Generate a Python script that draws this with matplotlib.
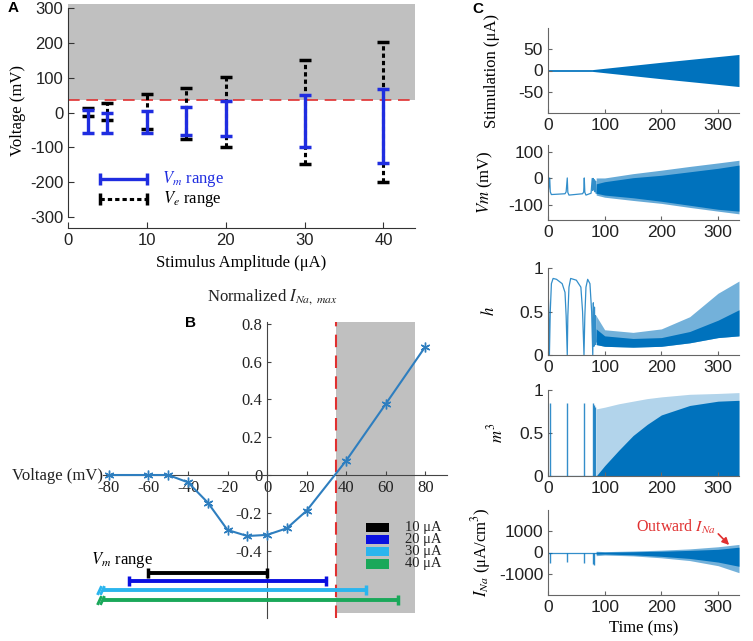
import numpy as np
import matplotlib
matplotlib.use('Agg')
import matplotlib.pyplot as plt

plt.rcParams['font.family'] = 'Liberation Sans'
plt.rcParams['mathtext.fontset'] = 'stix'
plt.rcParams['axes.unicode_minus'] = False

SERIF = 'Liberation Serif'
BLUE_A = '#1f2de0'
MBLUE = '#0072BD'
GRAY = '#c0c0c0'
RED = '#e03030'
AXC = '#333333'

# ---------------- panel A data
stim_amp = [2.5, 5, 10, 15, 20, 30, 40]
vm_lo = [-60, -60, -60, -63, -68, -100, -145]
vm_hi = [8, 0, 5, 17, 33, 51, 67]
ve_lo = [-10, -22, -47, -75, -100, -148, -200]
ve_hi = [14, 27, 53, 70, 102, 152, 202]
threshold = 37

# ---------------- panel B data
volt_B = [-80, -60, -50, -40, -30, -20, -10, 0, 10, 20, 40, 60, 80]
ina_B = [0, 0, 0, -0.039, -0.146, -0.291, -0.323, -0.317, -0.282, -0.189, 0.076, 0.376, 0.679]
range_labels = ['10 μA', '20 μA', '30 μA', '40 μA']
range_colors = ['black', '#0a10e0', '#2bb5ee', '#1aa85a']
range_lo = [-60, -70, -100, -145]
range_hi = [0, 30, 50, 66]
eq_pot = 35
shade_hi = 75

# ---------------- panel C data
stim_t = [0, 78, 200, 337]
stim_env = [2, 2, 19, 37]

vm_pre_t = [0, 1, 3, 4, 6, 30, 32, 34, 35, 37, 61, 63, 64, 65, 67, 76, 78, 79, 80, 81, 82, 83, 84, 85]
vm_pre_v = [-55, -40, 2, -50, -60, -57, -50, 2, -52, -62, -57, -50, 2, -52, -62, -55, 0, -45, 0, -40, -5, -50, -10, -55]
band_t = [85, 100, 150, 200, 250, 300, 337]
vm_top = [2, 2, 18, 31, 45, 58, 68]
vm_core_hi = [-20, -12, 3, 12, 25, 38, 50]
vm_core_lo = [-55, -62, -72, -85, -100, -115, -122]
vm_bot = [-62, -70, -82, -93, -108, -122, -132]

h_pre_t = [0, 1, 2.5, 4, 6, 9, 15, 25, 30, 32, 34, 35, 37, 40, 50, 58, 61, 63.5, 65, 67, 70, 74, 77, 79, 80,
           81, 82, 83, 84, 85]
h_pre_v = [0.75, 0.6, 0.0, 0.5, 0.82, 0.88, 0.87, 0.82, 0.72, 0.45, 0.0, 0.45, 0.78, 0.88, 0.86, 0.78, 0.5,
           0.0, 0.45, 0.78, 0.87, 0.82, 0.5, 0.0, 0.6, 0.1, 0.55, 0.12, 0.45, 0.15]
h_top = [0.45, 0.29, 0.26, 0.3, 0.44, 0.71, 0.85]
h_core = [0.3, 0.22, 0.19, 0.2, 0.27, 0.4, 0.52]
h_bot = [0.12, 0.1, 0.09, 0.1, 0.14, 0.2, 0.22]

m3_spike_t = [3, 34, 63.5, 79, 81, 83]
m3_spike_v = [0.85, 0.85, 0.85, 0.85, 0.82, 0.8]
m3_band_t = [85, 100, 125, 150, 175, 200, 250, 300, 337]
m3_top = [0.78, 0.8, 0.84, 0.87, 0.9, 0.92, 0.95, 0.96, 0.97]
m3_core = [0.0, 0.12, 0.3, 0.47, 0.6, 0.71, 0.82, 0.87, 0.88]

ina_spike_t = [3, 34, 63.5, 79, 81]
ina_spike_v = [-500, -450, -500, -550, -600]
ina_top = [60, 40, 70, 110, 170, 270, 380]
ina_core_hi = [20, 15, 35, 60, 100, 150, 250]
ina_core_lo = [-80, -70, -110, -180, -280, -450, -650]
ina_bot = [-150, -120, -160, -250, -380, -620, -950]

W, H = 753, 641
fig = plt.figure(figsize=(W / 100, H / 100), dpi=100)


def box(l, r, t, b):
    return [l / W, 1 - b / H, (r - l) / W, (b - t) / H]


# ================= A
axA = fig.add_axes(box(68, 415, 4, 217))
axA.axhspan(threshold, 330, color=GRAY, lw=0, zorder=0)
axA.axhline(threshold, color=RED, ls=(0, (7, 4)), lw=1.2, zorder=1)

ve_mid = (np.array(ve_lo) + np.array(ve_hi)) / 2
ve_half = (np.array(ve_hi) - np.array(ve_lo)) / 2
vm_mid = (np.array(vm_lo) + np.array(vm_hi)) / 2
vm_half = (np.array(vm_hi) - np.array(vm_lo)) / 2

eb = axA.errorbar(stim_amp, ve_mid, yerr=ve_half, fmt='none', ecolor='black',
                  elinewidth=2.2, capsize=4.5, capthick=2.5, zorder=2)
eb[2][0].set_linestyle((0, (1.4, 1.0)))
axA.errorbar(stim_amp, vm_mid, yerr=vm_half, fmt='none', ecolor=BLUE_A,
             elinewidth=2.4, capsize=4.5, capthick=2.5, zorder=3)

# legend drawn by hand
axA.errorbar([7], [-190], xerr=[3], fmt='none', ecolor=BLUE_A, elinewidth=2.4, capsize=4, capthick=2.5)
eb2 = axA.errorbar([7], [-248], xerr=[3], fmt='none', ecolor='black', elinewidth=2.2, capsize=4, capthick=2.5)
eb2[2][0].set_linestyle((0, (1.4, 1.0)))
axA.text(11.9, -190, r'$V_m$ range', color=BLUE_A, family=SERIF, fontsize=12, va='center')
axA.text(12.1, -248, r'$V_e$ range', color='black', family=SERIF, fontsize=12, va='center')

axA.set_xlim(0, 44)
axA.set_ylim(-300, 312)
axA.set_xticks([0, 10, 20, 30, 40])
axA.set_yticks(range(-300, 301, 100))
for s in ['top', 'right']:
    axA.spines[s].set_visible(False)
axA.spines['left'].set_bounds(-300, 300)
axA.spines['bottom'].set_position(('outward', 8))
for s in ['left', 'bottom']:
    axA.spines[s].set_color(AXC)
axA.tick_params(direction='in', length=4, labelsize=12, colors=AXC, labelcolor='#222')
axA.set_ylabel('Voltage (mV)', family=SERIF, fontsize=12, labelpad=3)
axA.set_xlabel('Stimulus Amplitude (μA)', family=SERIF, fontsize=12, labelpad=5)

# ================= B
axB = fig.add_axes(box(103, 447, 322, 618))
axB.fill_between([eq_pot, shade_hi], -0.73, 0.81, color=GRAY, lw=0, zorder=0)
axB.axvline(eq_pot, color=RED, ls=(0, (6, 4)), lw=1.5, zorder=1)
axB.plot(volt_B, ina_B, color='#2e7ebf', lw=1.5, marker=(6, 2, 0), ms=7, mew=1, zorder=3)

bar_y = [-0.517, -0.562, -0.608, -0.661]
for lo, hi, c, y in zip(range_lo, range_hi, range_colors, bar_y):
    axB.plot([lo, hi], [y, y], color=c, lw=2.8, solid_capstyle='butt', zorder=4)
    axB.plot([hi], [y], color=c, marker='|', ms=7, mew=2.5, zorder=4)
    if lo >= -83:
        axB.plot([lo], [y], color=c, marker='|', ms=7, mew=2.5, zorder=4)
    else:
        # break marks: the range runs off the left edge
        axB.plot([-85.2, -83.6], [y, y], ls='none', color=c, marker=(2, 0, -25), ms=7, mew=2,
                 clip_on=False, zorder=4)

leg_y = [-0.277, -0.340, -0.406, -0.471]
axB.barh(leg_y, 11.6, left=50, height=0.05, color=range_colors, zorder=4)
for y, lab in zip(leg_y, range_labels):
    axB.text(70, y, lab, family=SERIF, fontsize=10.5, va='center', color='#222')
axB.text(-89, -0.45, r'$V_m$ range', family=SERIF, fontsize=12, va='center', clip_on=False)

axB.set_xlim(-83, 91)
axB.set_ylim(-0.757, 0.81)
axB.set_xticks(range(-80, 81, 20))
axB.set_xticklabels([str(v) for v in range(-80, 81, 20)])
axB.set_yticks([-0.4, -0.2, 0, 0.2, 0.4, 0.6, 0.8])
axB.set_yticklabels(['-0.4', '-0.2', '0', '0.2', '0.4', '0.6', '0.8'])
for s in ['top', 'right']:
    axB.spines[s].set_visible(False)
axB.spines['left'].set_position(('data', 0))
axB.spines['bottom'].set_position(('data', 0))
for s in ['left', 'bottom']:
    axB.spines[s].set_color('#444')
axB.tick_params(direction='in', length=3, labelsize=12, colors='#444', labelcolor='#222')
for lab in axB.get_xticklabels() + axB.get_yticklabels():
    lab.set_family(SERIF)
fig.text(272 / W, 1 - 297 / H, r'Normalized $I_{Na,\ max}$', family=SERIF, fontsize=12,
         ha='center', va='center', color='#222')
fig.text(58 / W, 1 - 476 / H, 'Voltage (mV)', family=SERIF, fontsize=12, ha='center', va='center',
         color='#222')


# ================= C
def style_c(ax, ylim, yticks, ylabel, lx):
    ax.set_xlim(0, 337)
    ax.set_ylim(*ylim)
    ax.set_xticks([0, 100, 200, 300])
    ax.set_yticks(yticks)
    for s in ['top', 'right']:
        ax.spines[s].set_visible(False)
    for s in ['left', 'bottom']:
        ax.spines[s].set_color('#666')
        ax.spines[s].set_linewidth(0.8)
    ax.tick_params(direction='in', length=3, labelsize=12.5, colors='#666', labelcolor='#222')
    ax.set_ylabel(ylabel, family=SERIF, fontsize=12)
    ax.yaxis.set_label_coords(lx, 0.5)


ax1 = fig.add_axes(box(548, 739, 28, 113))
ax1.fill_between(stim_t, [-v for v in stim_env], stim_env, color=MBLUE, lw=0)
style_c(ax1, (-98, 98), [-50, 0, 50], 'Stimulation (μA)', -0.25)

ax2 = fig.add_axes(box(548, 739, 145, 220))
ax2.plot(vm_pre_t, vm_pre_v, color=MBLUE, lw=0.9, alpha=0.8)
ax2.fill_between(band_t, vm_bot, vm_top, color=MBLUE, lw=0, alpha=0.6)
ax2.fill_between(band_t, vm_core_lo, vm_core_hi, color=MBLUE, lw=0)
style_c(ax2, (-155, 125), [-100, 0, 100], r'$Vm$ (mV)', -0.28)

ax3 = fig.add_axes(box(548, 739, 268, 355))
ax3.plot(h_pre_t, h_pre_v, color=MBLUE, lw=0.9, alpha=0.8)
ax3.fill_between(band_t, h_bot, h_top, color=MBLUE, lw=0, alpha=0.55)
ax3.fill_between(band_t, h_bot, h_core, color=MBLUE, lw=0)
style_c(ax3, (0, 1), [0, 0.5, 1], r'$h$', -0.26)
ax3.set_yticklabels(['0', '0.5', '1'])

ax4 = fig.add_axes(box(548, 739, 390, 476))
ax4.vlines(m3_spike_t, 0, m3_spike_v, color=MBLUE, lw=1.0, alpha=0.8)
ax4.plot([0, 85], [0, 0], color=MBLUE, lw=0.9, alpha=0.8)
ax4.fill_between(m3_band_t, 0, m3_top, color=MBLUE, lw=0, alpha=0.3)
ax4.fill_between(m3_band_t, 0, m3_core, color=MBLUE, lw=0)
style_c(ax4, (0, 1), [0, 0.5, 1], r'$m^3$', -0.22)
ax4.set_yticklabels(['0', '0.5', '1'])

ax5 = fig.add_axes(box(548, 739, 510, 595))
ax5.vlines(ina_spike_t, ina_spike_v, 0, color=MBLUE, lw=1.0, alpha=0.8)
ax5.plot([0, 85], [0, 0], color=MBLUE, lw=0.9, alpha=0.8)
ax5.fill_between(band_t, ina_bot, ina_top, color=MBLUE, lw=0, alpha=0.55)
ax5.fill_between(band_t, ina_core_lo, ina_core_hi, color=MBLUE, lw=0)
style_c(ax5, (-2000, 2000), [-1000, 0, 1000], r'$I_{Na}$ (μA/cm$^3$)', -0.29)
ax5.set_xlabel('Time (ms)', family=SERIF, fontsize=12)
ax5.annotate('', xy=(323, 260), xytext=(297, 970),
             arrowprops=dict(arrowstyle='-|>', color=RED, lw=1.2, mutation_scale=10))
ax5.text(156, 1200, r'Outward $I_{Na}$', color=RED, family=SERIF, fontsize=11.5, va='center')

# panel letters
fig.text(8 / W, 1 - 8 / H, 'A', fontsize=11, fontweight='bold', va='center')
fig.text(185 / W, 1 - 323 / H, 'B', fontsize=11, fontweight='bold', va='center')
fig.text(472 / W, 1 - 9 / H, 'C', fontsize=11, fontweight='bold', va='center')

fig.savefig('out.png', dpi=100)
